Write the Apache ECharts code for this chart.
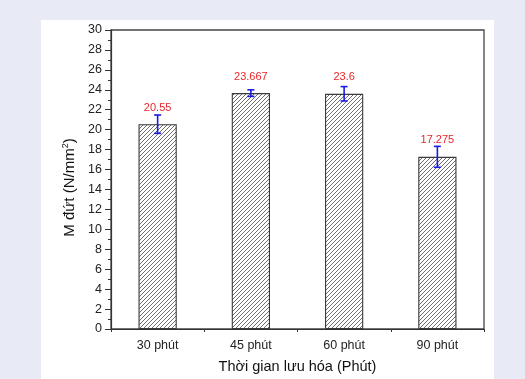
<!DOCTYPE html>
<html>
<head>
<meta charset="utf-8">
<script src="https://cdn.jsdelivr.net/npm/echarts@6/dist/echarts.min.js"></script>
<style>
  html, body { margin: 0; padding: 0; background: #e8ebf6; }
  #chart { width: 525px; height: 379px; }
</style>
</head>
<body>
<div id="chart"></div>
<script>
// Tensile strength vs. vulcanisation time
const categories = ['30 phút', '45 phút', '60 phút', '90 phút'];
const strength = [20.55, 23.667, 23.6, 17.275];
const errors = [0.92, 0.33, 0.72, 1.05];
const valueLabels = ['20.55', '23.667', '23.6', '17.275'];

// diagonal hatch fill for the bars
function hatchPattern() {
  const c = document.createElement('canvas');
  c.width = 4; c.height = 4;
  const ctx = c.getContext('2d');
  ctx.fillStyle = '#ffffff';
  ctx.fillRect(0, 0, 4, 4);
  ctx.strokeStyle = '#6e6e6e';
  ctx.lineWidth = 1;
  ctx.beginPath();
  ctx.moveTo(-1, 5); ctx.lineTo(5, -1);
  ctx.moveTo(-1, 1); ctx.lineTo(1, -1);
  ctx.moveTo(3, 5); ctx.lineTo(5, 3);
  ctx.stroke();
  return c;
}

const chart = echarts.init(document.getElementById('chart'), null, { renderer: 'canvas' });
const font = 'Liberation Sans, Arial, sans-serif';

chart.setOption({
  backgroundColor: '#e8ebf6',
  animation: false,
  graphic: [{
    type: 'rect', z: -10, silent: true,
    shape: { x: 41, y: 20, width: 453, height: 380 },
    style: { fill: '#ffffff' }
  }],
  grid: {
    left: 111, right: 41, top: 30, bottom: 45,
    show: true, borderColor: '#444', borderWidth: 1.3, backgroundColor: 'transparent'
  },
  xAxis: [{
    type: 'category',
    data: categories,
    name: 'Thời gian lưu hóa (Phút)',
    nameLocation: 'middle',
    nameGap: 30,
    nameTextStyle: { fontFamily: font, fontSize: 14.5, color: '#111' },
    axisLine: { lineStyle: { color: '#333', width: 1.2 } },
    axisTick: { alignWithLabel: true, length: 4, lineStyle: { color: '#333' } },
    axisLabel: { fontFamily: font, fontSize: 12.5, color: '#222', margin: 10 }
  }, {
    type: 'category',
    data: categories,
    position: 'bottom',
    axisLine: { show: false },
    axisTick: { show: true, length: 3, lineStyle: { color: '#333' } },
    axisLabel: { show: false }
  }],
  yAxis: {
    type: 'value',
    min: 0, max: 30, interval: 2,
    name: 'M đứt (N/mm{sup|2})',
    nameLocation: 'middle',
    nameGap: 29,
    nameTextStyle: {
      fontFamily: font, fontSize: 15, color: '#111',
      padding: [0, 16, 0, 0],
      rich: { sup: { fontFamily: font, fontSize: 9, verticalAlign: 'top', padding: [0, 0, 8, 0], color: '#111' } }
    },
    axisLine: { show: true, lineStyle: { color: '#333', width: 1.2 } },
    axisTick: { show: true, length: 6, lineStyle: { color: '#333' } },
    minorTick: { show: true, splitNumber: 2, length: 3, lineStyle: { color: '#333' } },
    splitLine: { show: false },
    axisLabel: { fontFamily: font, fontSize: 12.5, color: '#222', margin: 9 }
  },
  series: [{
    type: 'bar',
    data: strength,
    barWidth: '41%',
    itemStyle: {
      color: { image: hatchPattern(), repeat: 'repeat' },
      borderColor: '#3a3a3a',
      borderWidth: 1.1
    },
    label: {
      show: true,
      position: 'top',
      distance: 11,
      fontFamily: font,
      fontSize: 11,
      color: '#e8262b',
      formatter: p => valueLabels[p.dataIndex]
    },
    z: 2
  }, {
    type: 'custom',
    data: strength.map((v, i) => [i, v, errors[i]]),
    z: 5,
    renderItem: (params, api) => {
      const i = api.value(0), v = api.value(1), e = api.value(2);
      const top = api.coord([i, v + e]);
      const bot = api.coord([i, v - e]);
      const cap = 3.5;
      const style = { stroke: '#1a1ae6', lineWidth: 1.6 };
      return {
        type: 'group',
        children: [
          { type: 'line', shape: { x1: top[0], y1: top[1], x2: bot[0], y2: bot[1] }, style },
          { type: 'line', shape: { x1: top[0] - cap, y1: top[1], x2: top[0] + cap, y2: top[1] }, style },
          { type: 'line', shape: { x1: bot[0] - cap, y1: bot[1], x2: bot[0] + cap, y2: bot[1] }, style }
        ]
      };
    }
  }]
});
</script>
</body>
</html>
